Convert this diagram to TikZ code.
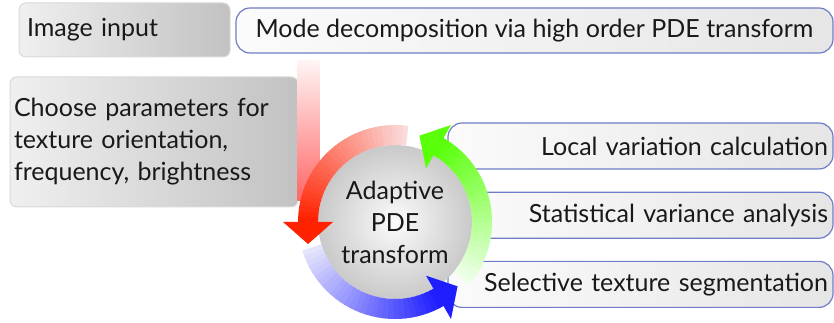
\documentclass[tikz,border=0pt]{standalone}
\usepackage{fontspec}
\setmainfont{Lato}
\usetikzlibrary{positioning}
\definecolor{boxblue}{RGB}{112,124,200}
\definecolor{redA}{RGB}{250,218,218}
\definecolor{redB}{RGB}{255,34,0}
\definecolor{blueA}{RGB}{228,228,252}
\definecolor{blueB}{RGB}{30,30,255}
\definecolor{greenA}{RGB}{238,255,232}
\definecolor{greenB}{RGB}{90,255,10}

\begin{document}
\begin{tikzpicture}[x=1pt, y=1pt,
    txt/.style={font=\fontsize{25}{32}\selectfont, text=black!90},
    graybox/.style={txt, draw=gray!30, line width=1pt, rounded corners=7pt,
      left color=gray!12, right color=gray!48, align=left},
    bluebox/.style={txt, draw=boxblue, line width=1.2pt, rounded corners=14pt,
      left color=gray!3, right color=gray!20},
    stepbox/.style={bluebox, minimum height=46pt, text width=375pt,
      inner xsep=5pt, align=right},
    ring/.style={line width=20pt}]
  \useasboundingbox (0,0) rectangle (834,323);
  % caixas
  \node[graybox, text width=195pt, inner xsep=8pt, minimum height=54pt] (img) at (124.5,293) {Image input};
  \node[bluebox, minimum width=597pt, minimum height=45pt] (mode) at (534.5,292.5) {Mode decomposition via high order PDE transform};
  \node[graybox, text width=280pt, inner xsep=4pt, minimum height=130pt] (param) at (154,181) {Choose parameters for\\texture orientation,\\frequency, brightness};
  \node[stepbox] (loc) at (640.5,177) {Local variation calculation};
  \node[stepbox, below=22pt of loc] (stat) {Statistical variance analysis};
  \node[stepbox, below=22pt of stat] (seg) {Selective texture segmentation};
  % barra
  \shade[top color=red!4, bottom color=red!60] ([xshift=62pt, yshift=-7pt]mode.south west) rectangle ([xshift=84pt, yshift=-147pt]mode.south west);
  % ciclo
  \node[txt, circle, minimum size=154pt, inner sep=0pt, inner color=gray!3, outer color=gray!42, align=center] (pde) at (395,101) {Adaptive\\PDE\\transform};
  \begin{scope}[shift={(pde.center)}]
    \foreach \s/\e/\ca/\cb in {82/180/redA/redB, 197/300/blueA/blueB, 320/420/greenA/greenB} {
      \foreach \i in {0,...,29} {
        \pgfmathsetmacro{\a}{\s+\i*(\e-\s)/30}
        \pgfmathtruncatemacro{\p}{\i*100/29}
        \draw[ring, draw=\cb!\p!\ca] (\a:87) arc[start angle=\a, delta angle={(\e-\s)/30+0.6}, radius=87];
      }
      \fill[\cb] (\e:62) -- (\e:112) -- (\e+14.2:89.7) -- cycle;
    }
  \end{scope}
\end{tikzpicture}
\end{document}
